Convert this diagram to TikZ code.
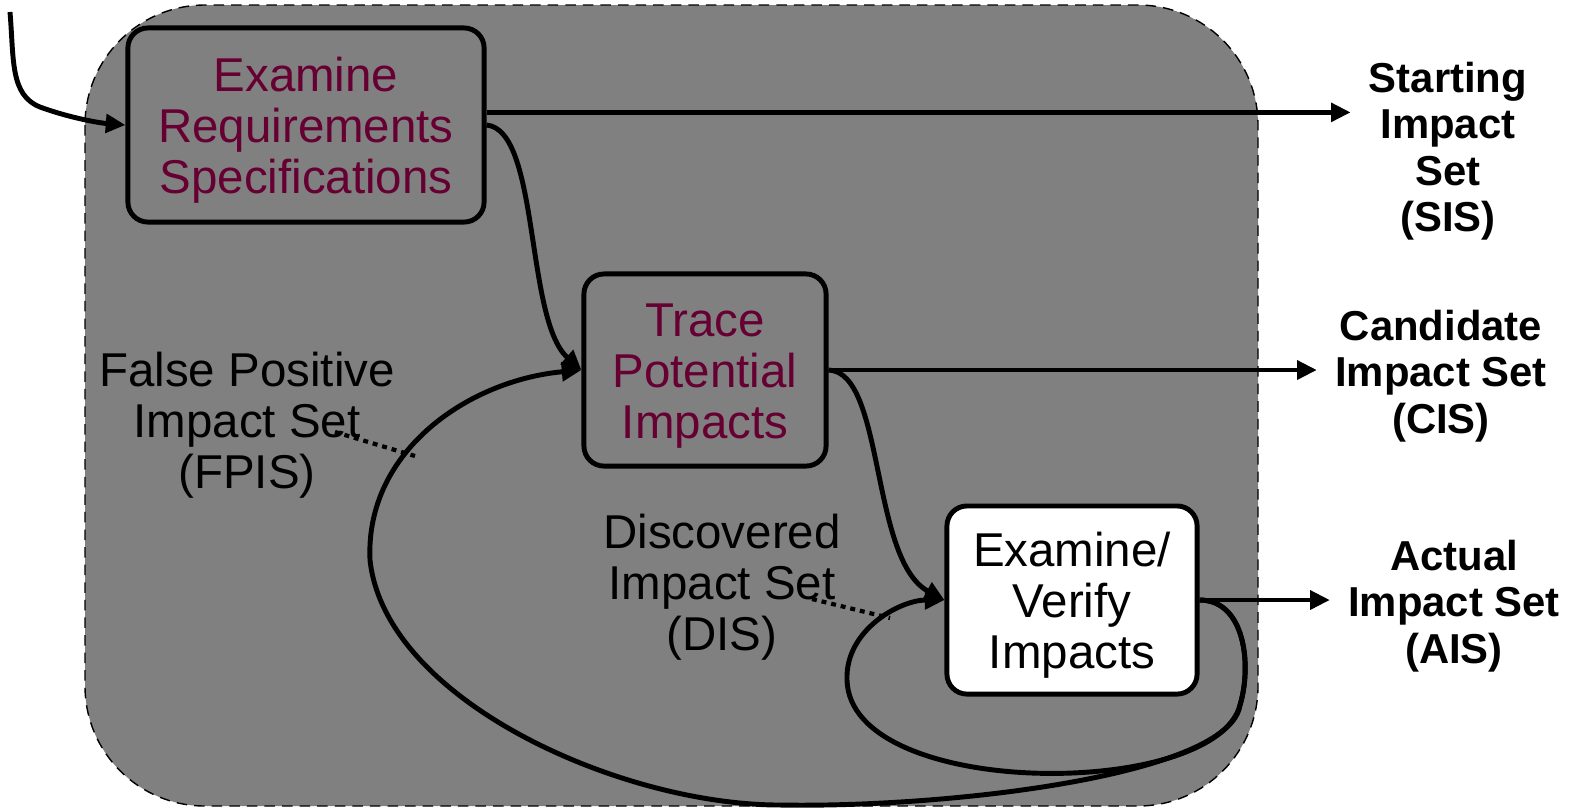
\documentclass[tikz,border=0pt]{standalone}
\usepackage{fontspec}
\setmainfont{Liberation Sans}
\usepackage{tikz}
\usetikzlibrary{arrows.meta}
\definecolor{panelGray}{RGB}{128,128,128}
\definecolor{stepText}{RGB}{102,0,51}
\tikzstyle{pixel} = [x = .01cm, y = -.01cm]
\tikzstyle{panelStyle} = [fill=panelGray, draw=black, line width=.4pt, dash pattern=on 3pt off 2pt, rounded corners = 1.2cm]
\tikzstyle{stepBox} = [draw=black, line width=1.4pt, fill=panelGray, rounded corners = .2cm, align=center, inner sep=0pt, text=stepText, font=\boxFont]
\tikzstyle{verifyStyle} = [stepBox, fill=white, text=black]
\tikzstyle{setLabel} = [align=center, inner sep=5pt, font=\setFont]
\tikzstyle{noteLabel} = [align=center, inner sep=0pt, font=\boxFont]
\tikzstyle{flow} = [line width=1.4pt, -{Triangle[length=5.6pt, width=5.2pt]}]
\tikzstyle{pointer} = [line width=1.2pt, dash pattern=on 1.4pt off 1.4pt]
\newcommand{\boxFont}{\fontsize{13.5}{14.5}\selectfont}
\newcommand{\setFont}{\fontsize{11.9}{13.2}\selectfont\bfseries}
\newcommand{\firstLine}{\rule{0pt}{13pt}}
\begin{document}
\begin{tikzpicture}[pixel]
  \useasboundingbox (0,0) rectangle (1577,808);
  \path [panelStyle] (85,5) rectangle (1258,806);

  % process steps
  \node [stepBox, minimum width=3.56cm, minimum height=1.94cm] (reqBox) at (306,125) {\firstLine Examine\\Requirements\\Specifications};
  \node [stepBox, minimum width=2.42cm, minimum height=1.92cm] (traceBox) at (705,370) {\firstLine Trace\\Potential\\Impacts};
  \node [verifyStyle, minimum width=2.5cm, minimum height=1.88cm] (verifyBox) at (1072,600) {\firstLine Examine/\\Verify\\Impacts};

  % impact sets
  \node [setLabel] (sisLabel) at (1448,151) {Starting\\Impact\\Set\\(SIS)};
  \node [setLabel] (cisLabel) at (1441,376) {Candidate\\Impact Set\\(CIS)};
  \node [setLabel] (aisLabel) at (1454,606) {Actual\\Impact Set\\(AIS)};
  \node [noteLabel] (fpisLabel) at (247,425) {False Positive\\Impact Set\\(FPIS)};
  \node [noteLabel] (disLabel) at (722,587) {Discovered\\Impact Set\\(DIS)};

  \coordinate (inStart) at (10,12);
  \coordinate (fpisFrom) at (335,432);
  \coordinate (fpisTo) at (415,456);
  \coordinate (disFrom) at (812,599);
  \coordinate (disTo) at (890,618);

  \draw [flow] (inStart) .. controls (14,60) and (10,95) .. (40,107) .. controls (70,118) and (100,123) .. (reqBox.west);
  \draw [flow] (reqBox.4) -- (reqBox.4 -| sisLabel.west);
  \draw [flow] (traceBox.east) -- (traceBox.east -| cisLabel.west);
  \draw [flow] (verifyBox.east) -- (verifyBox.east -| aisLabel.west);
  \draw [flow] (reqBox.east) .. controls (540,130) and (525,320) .. (traceBox.west);
  \draw [flow] (traceBox.east) .. controls (885,372) and (870,560) .. (verifyBox.west);

  % feedback loops
  \draw [flow] (verifyBox.east) .. controls (1245,600) and (1252,665) .. (1240,705) .. controls (1230,775) and (950,808) .. (780,805) .. controls (620,805) and (385,700) .. (370,560) .. controls (365,450) and (470,380) .. (traceBox.west);
  \draw [flow] (verifyBox.east) .. controls (1245,600) and (1252,665) .. (1240,705) .. controls (1215,800) and (850,800) .. (847,680) .. controls (845,630) and (900,600) .. (verifyBox.west);

  \draw [pointer] (fpisFrom) -- (fpisTo);
  \draw [pointer] (disFrom) -- (disTo);
\end{tikzpicture}
\end{document}
